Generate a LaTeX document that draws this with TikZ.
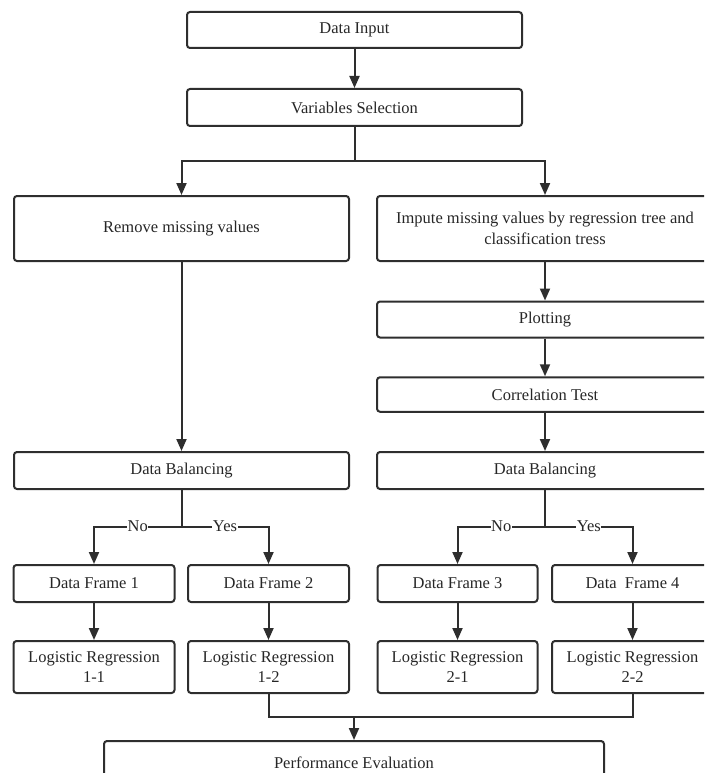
\documentclass[tikz,border=0pt]{standalone}
\usepackage{fontspec}
\setmainfont{Liberation Serif}
\usetikzlibrary{arrows.meta}
\definecolor{ln}{HTML}{2E2E2E}
\begin{document}
\begin{tikzpicture}[x=1pt,y=-1pt,
  box/.style={draw=ln, line width=2pt, rounded corners=3pt, inner sep=0pt,
    align=center, font=\fontsize{16.5}{20.5}\selectfont, text=black!85},
  arr/.style={draw=ln, line width=2pt, -{Triangle[length=12pt,width=10pt]}},
  con/.style={draw=ln, line width=2pt},
  lab/.style={fill=white, inner sep=0.5pt, font=\fontsize{16.5}{20.5}\selectfont, text=black!85}]
\path[use as bounding box, clip] (0,0) rectangle (704,773);

\node[box, minimum width=335pt, minimum height=36pt] (in) at (354.5,30) {Data Input};
\node[box, minimum width=335pt, minimum height=37pt] (vs) at (354.5,107.5) {Variables Selection};
\node[box, minimum width=335pt, minimum height=65pt] (rm) at (181.5,228.5) {Remove missing values};
\node[box, minimum width=336pt, minimum height=65pt] (imp) at (545,228.5) {Impute missing values by regression tree and\\classification tress};
\node[box, minimum width=336pt, minimum height=36pt] (plot) at (545,319.5) {Plotting};
\node[box, minimum width=336pt, minimum height=34.5pt] (corr) at (545,394.5) {Correlation Test};
\node[box, minimum width=335pt, minimum height=37pt] (dbl) at (181.5,470.5) {Data Balancing};
\node[box, minimum width=336pt, minimum height=37pt] (dbr) at (545,470.5) {Data Balancing};

\node[box, minimum width=161pt, minimum height=37pt] (df1) at (94,583.5) {Data Frame 1};
\node[box, minimum width=161pt, minimum height=37pt] (df2) at (268.5,583.5) {Data Frame 2};
\node[box, minimum width=160pt, minimum height=37pt] (df3) at (457.5,583.5) {Data Frame 3};
\node[box, minimum width=161pt, minimum height=37pt] (df4) at (632.5,583.5) {Data\ \ Frame 4};

\node[box, minimum width=161pt, minimum height=52pt] (lr1) at (94,667) {Logistic Regression\\1-1};
\node[box, minimum width=161pt, minimum height=52pt] (lr2) at (268.5,667) {Logistic Regression\\1-2};
\node[box, minimum width=160pt, minimum height=52pt] (lr3) at (457.5,667) {Logistic Regression\\2-1};
\node[box, minimum width=161pt, minimum height=52pt] (lr4) at (632.5,667) {Logistic Regression\\2-2};

\node[box, minimum width=500pt, minimum height=44pt] (pe) at (354,763) {Performance Evaluation};

\coordinate (j1) at (354.5,161);
\coordinate (j2) at (181.5,526.5);
\coordinate (j3) at (545,526.5);
\coordinate (j4) at (354,717);

\draw[arr] (in) -- (vs);
\draw[con] (vs.south) -- (j1);
\draw[arr] (j1) -| (rm.north);
\draw[arr] (j1) -| (imp.north);
\draw[arr] (rm) -- (dbl);
\draw[arr] (imp) -- (plot);
\draw[arr] (plot) -- (corr);
\draw[arr] (corr) -- (dbr);

\draw[con] (dbl.south) -- (j2);
\draw[arr] (j2) -| node[lab, pos=0.25] {No} (df1.north);
\draw[arr] (j2) -| node[lab, pos=0.25] {Yes} (df2.north);
\draw[con] (dbr.south) -- (j3);
\draw[arr] (j3) -| node[lab, pos=0.25] {No} (df3.north);
\draw[arr] (j3) -| node[lab, pos=0.25] {Yes} (df4.north);

\draw[arr] (df1) -- (lr1);
\draw[arr] (df2) -- (lr2);
\draw[arr] (df3) -- (lr3);
\draw[arr] (df4) -- (lr4);

\draw[con] (lr2.south) |- (j4) -| (lr4.south);
\draw[arr] (j4) -- (pe.north);
\end{tikzpicture}
\end{document}
